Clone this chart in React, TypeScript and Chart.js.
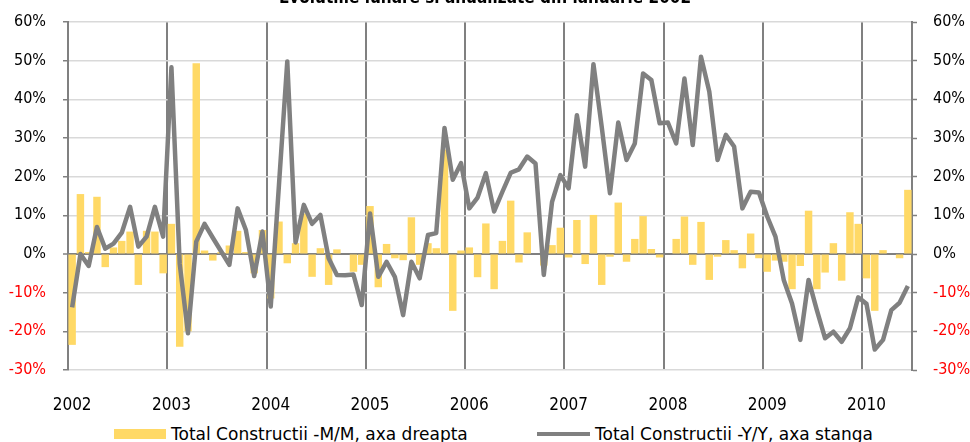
import { useEffect, useRef } from 'react';
import { Chart, registerables } from 'chart.js';

Chart.register(...registerables);

const FONT = "'DejaVu Sans Condensed', 'DejaVu Sans', sans-serif";
const LEGEND_FONT = "'DejaVu Sans', sans-serif";

const titleText = 'Evolutiile lunare si anualizate din ianuarie 2002';
const mmLabel = 'Total Constructii -M/M, axa dreapta';
const yyLabel = 'Total Constructii -Y/Y, axa stanga';

const years = ['2002', '2003', '2004', '2005', '2006', '2007', '2008', '2009', '2010'];
const monthNames = ['ian', 'feb', 'mar', 'apr', 'mai', 'iun', 'iul', 'aug', 'sep', 'oct', 'noi', 'dec'];
const categories = years.flatMap((y) => monthNames.map((m) => `${m} ${y}`)).slice(0, 102);

// M/M change, right axis (%)
const mmValues = [
  -23.5, 15.5, 0.5, 14.8, -3.4, 1.7, 3.4, 5.8, -8.0, 6.0, 5.8, -5.0,
  7.8, -24.0, -20.0, 49.3, 0.9, -1.7, 0.5, 2.2, 6.0, 0.5, -5.0, 6.2,
  -11.5, 8.4, -2.4, 2.8, 10.5, -5.9, 1.5, -8.0, 1.2, 0.0, -4.6, -2.8,
  12.4, -8.6, 2.6, -1.1, -1.6, 9.5, -2.8, 2.8, 1.5, 27.0, -14.7, 0.9,
  1.7, -6.0, 7.9, -9.1, 3.4, 13.8, -2.2, 5.6, 0.0, -3.0, 2.3, 6.8,
  -0.9, 8.8, -2.6, 10.1, -8.0, -0.7, 13.3, -2.0, 3.9, 9.8, 1.3, -0.9,
  0.0, 3.9, 9.7, -2.8, 8.3, -6.7, -0.7, 3.6, 1.0, -3.7, 5.3, -1.1,
  -4.6, -1.7, -2.0, -9.1, -3.1, 11.2, -9.1, -4.8, 2.8, -6.9, 10.8, 7.8,
  -6.3, -14.7, 1.0, 0.0, -1.1, 16.6,
];

// Y/Y change, left axis (%)
const yyValues = [
  -13.8, 0.0, -3.1, 7.0, 1.4, 2.7, 5.5, 12.2, 1.9, 4.5, 12.2, 4.5,
  48.3, -2.5, -20.5, 3.2, 7.8, 4.2, 0.7, -2.8, 11.8, 6.2, -5.7, 5.8,
  -13.6, 18.0, 49.8, 3.0, 12.7, 7.8, 10.1, -1.1, -5.4, -5.5, -5.3, -13.2,
  10.5, -5.9, -2.0, -5.9, -15.8, -2.0, -6.3, 4.9, 5.4, 32.6, 19.2, 23.5,
  11.8, 14.6, 20.9, 11.0, 16.1, 21.0, 21.9, 25.2, 23.4, -5.4, 13.5, 20.4,
  17.0, 35.9, 22.6, 49.1, 32.9, 15.7, 34.0, 24.3, 28.6, 46.7, 45.0, 33.8,
  34.0, 28.6, 45.4, 28.2, 51.0, 42.0, 24.3, 30.8, 27.8, 11.8, 16.1, 15.9,
  9.7, 4.5, -6.7, -12.8, -22.2, -6.7, -14.5, -21.8, -20.1, -22.7, -19.2, -11.2,
  -12.9, -24.7, -22.2, -14.5, -12.6, -8.3,
];

const axisMin = -30;
const axisMax = 60;
const axisStep = 10;

const BAR_COLOR = '#FFD966';
const LINE_COLOR = '#808080';

export default function App() {
  const ref = useRef<HTMLCanvasElement>(null);

  useEffect(() => {
    if (!ref.current) return;
    const tickLabelColor = (c: any) => (c.tick && c.tick.value < 0 ? '#FF0000' : '#000000');
    const chart = new Chart(ref.current, {
      data: {
        labels: categories,
        datasets: [
          {
            type: 'bar',
            label: mmLabel,
            data: mmValues,
            yAxisID: 'y1',
            backgroundColor: BAR_COLOR,
            borderWidth: 0,
            barPercentage: 0.9,
            categoryPercentage: 1,
            order: 2,
          } as any,
          {
            type: 'line',
            label: yyLabel,
            data: yyValues,
            yAxisID: 'y',
            borderColor: LINE_COLOR,
            backgroundColor: LINE_COLOR,
            borderWidth: 4.5,
            pointRadius: 0,
            tension: 0,
            borderJoinStyle: 'round',
            order: 1,
          } as any,
        ],
      },
      options: {
        animation: false,
        responsive: true,
        maintainAspectRatio: false,
        layout: { padding: 0 },
        font: { family: FONT, size: 16 },
        plugins: {
          legend: { display: false },
          tooltip: { enabled: false },
          title: {
            display: true,
            text: titleText,
            color: '#000000',
            font: { family: FONT, size: 17, weight: 'bold' },
            padding: { top: 8, bottom: 13.6 },
          },
        },
        scales: {
          x: {
            type: 'category',
            offset: true,
            grid: {
              offset: true,
              drawTicks: false,
              color: (c: any) => (c.index % 12 === 0 ? '#808080' : 'rgba(0,0,0,0)'),
              lineWidth: 2,
            },
            border: { display: false },
            ticks: {
              autoSkip: false,
              maxRotation: 0,
              minRotation: 0,
              padding: 25,
              color: '#000000',
              font: { family: FONT, size: 17 },
              callback: (_v: any, i: number) => (i % 12 === 0 ? years[i / 12] : ''),
            },
            afterFit: (s: any) => {
              s.height = 50;
            },
          },
          y: {
            position: 'left',
            min: axisMin,
            max: axisMax,
            ticks: {
              stepSize: axisStep,
              padding: 17,
              color: tickLabelColor,
              font: { family: FONT, size: 16 },
              callback: (v: any) => `${v}%`,
            },
            grid: {
              color: (c: any) => (c.tick && c.tick.value === 0 ? '#808080' : '#D9D9D9'),
              lineWidth: (c: any) => (c.tick && c.tick.value === 0 ? 2 : 1.5),
              tickColor: '#808080',
              tickLength: 5,
              tickWidth: 1.5,
            },
            border: { color: '#808080', width: 2 },
            afterFit: (s: any) => {
              s.width = 68;
            },
          },
          y1: {
            position: 'right',
            min: axisMin,
            max: axisMax,
            ticks: {
              stepSize: axisStep,
              padding: 16,
              color: tickLabelColor,
              font: { family: FONT, size: 16 },
              callback: (v: any) => `${v}%`,
            },
            grid: {
              drawOnChartArea: false,
              tickColor: '#808080',
              tickLength: 5,
              tickWidth: 1.5,
            },
            border: { color: '#808080', width: 2 },
            afterFit: (s: any) => {
              s.width = 58;
            },
          },
        },
      } as any,
    });
    return () => chart.destroy();
  }, []);

  const legendText: React.CSSProperties = {
    position: 'absolute',
    top: 424,
    height: 20,
    lineHeight: '20px',
    fontFamily: LEGEND_FONT,
    fontSize: 17,
    color: '#000',
    whiteSpace: 'nowrap',
  };

  return (
    <div
      style={{
        position: 'fixed',
        left: 0,
        top: 0,
        width: 970,
        height: 442,
        overflow: 'hidden',
        background: '#fff',
      }}
    >
      <div style={{ position: 'absolute', left: 0, top: -20, width: 970, height: 440 }}>
        <canvas ref={ref} />
      </div>
      <div style={{ position: 'absolute', left: 114, top: 429, width: 52, height: 10, background: BAR_COLOR }} />
      <div style={{ ...legendText, left: 171 }}>{mmLabel}</div>
      <div style={{ position: 'absolute', left: 537, top: 432, width: 53, height: 4, background: LINE_COLOR }} />
      <div style={{ ...legendText, left: 595 }}>{yyLabel}</div>
    </div>
  );
}
